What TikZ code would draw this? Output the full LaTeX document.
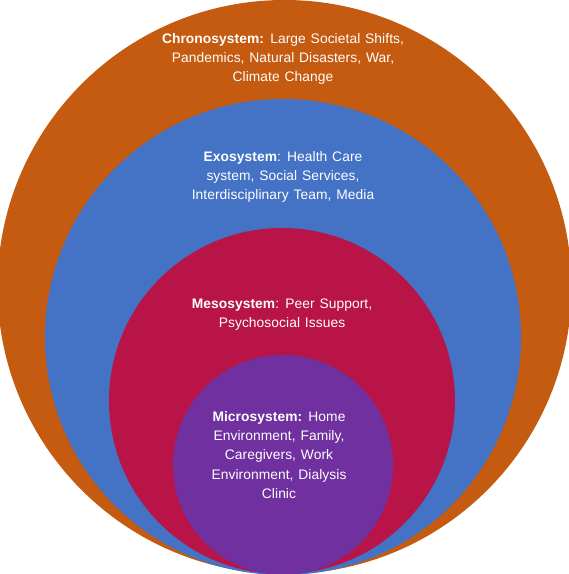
\documentclass[tikz,border=0pt]{standalone}
\usepackage{fontspec}
\setmainfont[LetterSpace=0.5,WordSpace=1.25]{Liberation Sans}
\definecolor{chronocol}{HTML}{C55A11}
\definecolor{exocol}{HTML}{4472C4}
\definecolor{mesocol}{HTML}{B81448}
\definecolor{microcol}{HTML}{7030A0}
\tikzstyle{ring}=[circle,inner sep=0pt,draw=none]
\tikzstyle{layertext}=[align=center,text=white,font=\fontsize{13.8}{19.3}\selectfont]
\begin{document}
\begin{tikzpicture}[x=1pt,y=-1pt]
      \useasboundingbox (0,0) rectangle (569,574);
      %rings
      \foreach \nodename/\x/\y/\d/\color in {
        chrono/284.5/287/574/chronocol, exo/283/337/476/exocol,
        meso/282/401/346/mesocol, micro/283/465/220/microcol}
      {
        \node[ring, minimum size=\d pt, fill=\color] (\nodename) at (\x,\y) {};
      };
      %texts
      \node[layertext] (chronotext) at (283,59)
        {\textbf{Chronosystem:} Large Societal Shifts,\\Pandemics, Natural Disasters, War,\\Climate Change};
      \node[layertext] (exotext) at (283,177)
        {\textbf{Exosystem}: Health Care\\system, Social Services,\\Interdisciplinary Team, Media};
      \node[layertext] (mesotext) at (282,314.5)
        {\textbf{Mesosystem}: Peer Support,\\Psychosocial Issues};
      \node[layertext] (microtext) at (279,455)
        {\textbf{Microsystem:} Home\\Environment,  Family,\\Caregivers, Work\\Environment,  Dialysis\\Clinic};
\end{tikzpicture}
\end{document}
